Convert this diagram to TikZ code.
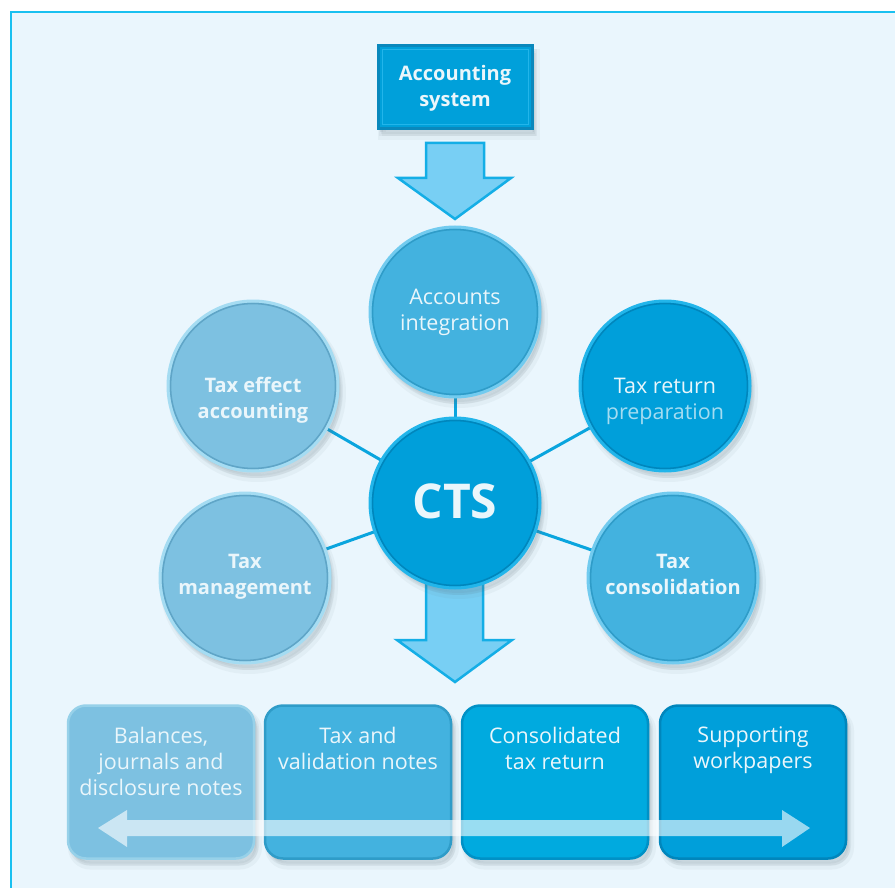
\documentclass[tikz,border=0pt]{standalone}
\usepackage{fontspec}
\setmainfont{Open Sans}
\definecolor{pagebg}{HTML}{EAF6FD}
\definecolor{frameline}{HTML}{19C0F0}
\definecolor{txt}{HTML}{EAF6FB}
\definecolor{lightfill}{HTML}{7DC1E1}
\definecolor{lightring}{HTML}{A5DCF2}
\definecolor{lightdark}{HTML}{5FA5C7}
\definecolor{midfill}{HTML}{43B2DF}
\definecolor{midring}{HTML}{72CBEF}
\definecolor{middark}{HTML}{2F9CC8}
\definecolor{darkfill}{HTML}{009FDA}
\definecolor{darkring}{HTML}{22B5EA}
\definecolor{darkdark}{HTML}{0086BC}
\definecolor{box3fill}{HTML}{00AADF}
\definecolor{connector}{HTML}{0AA5DE}
\definecolor{arrowfill}{HTML}{78CFF4}
\definecolor{arrowline}{HTML}{14AEE6}
\definecolor{accfill}{HTML}{00A0DA}
\definecolor{accline}{HTML}{0A88BC}
\definecolor{shadowcol}{HTML}{5A6E7A}
\tikzset{
  softshadow/.style={
    preaction={fill=shadowcol, fill opacity=0.06, transform canvas={xshift=4pt,yshift=-7pt}, draw=shadowcol, draw opacity=0.06, line width=8pt},
    preaction={fill=shadowcol, fill opacity=0.08, transform canvas={xshift=3pt,yshift=-5pt}, draw=shadowcol, draw opacity=0.08, line width=4pt},
    preaction={fill=shadowcol, fill opacity=0.10, transform canvas={xshift=2pt,yshift=-3pt}}},
  circ/.style n args={3}{circle, minimum size=170pt, inner sep=0pt, line width=3pt,
    fill=#1, draw=#2, softshadow,
    path picture={\draw[#3, line width=1.6pt] (path picture bounding box.center) circle (82.5pt);}},
  lbl/.style={text=txt, align=center, font=\fontsize{21.5}{26}\selectfont, inner sep=0pt},
  blbl/.style={text=txt, align=center, font=\fontsize{20}{26}\selectfont\bfseries, inner sep=0pt},
  bbox/.style n args={2}{rectangle, rounded corners=18pt, minimum width=186pt, minimum height=153pt,
    inner sep=0pt, line width=2.5pt, fill=#1, draw=#2, softshadow},
  downarrow/.style={fill=arrowfill, draw=arrowline, line width=2.5pt, line join=miter},
  conn/.style={draw=connector, line width=3pt}
}
\begin{document}
\begin{tikzpicture}[x=1pt,y=-1pt]
\useasboundingbox (0,0) rectangle (895,888);
\fill[pagebg] (10,12) rectangle (895,888);
\draw[frameline, line width=2pt] (11,888) -- (11,12) -- (895,12);

% centre coordinates for the connectors
\coordinate (aic) at (455,312);
\coordinate (teac) at (253,386);
\coordinate (trpc) at (665,386);
\coordinate (tmc) at (245,578);
\coordinate (tcc) at (673,578);
\coordinate (ctsc) at (455,503);

% connectors (under the circles)
\draw[conn] (ctsc) -- (aic);
\draw[conn] (ctsc) -- (teac);
\draw[conn] (ctsc) -- (trpc);
\draw[conn] (ctsc) -- (tmc);
\draw[conn] (ctsc) -- (tcc);

% accounting system
\node[rectangle, minimum width=154pt, minimum height=83pt, fill=accfill, draw=accline, line width=3pt, softshadow,
  path picture={\draw[darkring, line width=1pt] ([xshift=4pt,yshift=-4pt]path picture bounding box.north west) rectangle ([xshift=-4pt,yshift=4pt]path picture bounding box.south east);}]
  (acc) at (455,87.5) {};
\node[blbl] (acct) at (455,88.5) {Accounting\\system};

% top arrow
\draw[downarrow] (426,143) -- (484,143) -- (484,178) -- (511,178) -- (455,219) -- (398,178) -- (426,178) -- cycle;

% bottom arrow (under CTS)
\draw[downarrow] (426,570) -- (483,570) -- (483,640) -- (512,640) -- (455,682) -- (397,640) -- (426,640) -- cycle;

% circles
\node[circ={midfill}{midring}{middark}] (ai) at (aic) {};
\node[lbl] (ait) at (455,312) {Accounts\\integration};

\node[circ={lightfill}{lightring}{lightdark}] (tea) at (teac) {};
\node[blbl] (teat) at (253,400) {Tax effect\\accounting};

\node[circ={darkfill}{darkring}{darkdark}] (trp) at (trpc) {};
\node[lbl] (trpt) at (665,401) {Tax return\\\textcolor{txt!70!darkfill}{preparation}};

\node[circ={lightfill}{lightring}{lightdark}] (tm) at (tmc) {};
\node[blbl] (tmt) at (245,577) {Tax\\management};

\node[circ={midfill}{midring}{middark}] (tc) at (tcc) {};
\node[blbl] (tct) at (673,574) {Tax\\consolidation};

\node[circ={darkfill}{darkring}{darkdark}] (cts) at (ctsc) {};
\node[text=txt, font=\fontsize{48}{50}\selectfont\bfseries, inner sep=0pt] (ctst) at (455,501) {CTS};

% bottom boxes
\node[bbox={lightfill}{lightring!80!lightdark}] (b1) at (161,782) {};
\node[bbox={midfill}{middark}] (b2) at (358,782) {};
\node[bbox={box3fill}{darkdark!70!box3fill}] (b3) at (555,782) {};
\node[bbox={darkfill}{darkdark}] (b4) at (753,782) {};
\node[lbl, anchor=north] (b1t) at (161,727) {Balances,\\journals and\\disclosure notes};
\node[lbl, anchor=north] (b2t) at (358,727) {Tax and\\validation notes};
\node[lbl, anchor=north] (b3t) at (555,727) {Consolidated\\tax return};
\node[lbl, anchor=north] (b4t) at (753,727) {Supporting\\workpapers};

% double arrow
\fill[white, opacity=0.6] (98,828) -- (127,810) -- (127,820) -- (782,820) -- (782,810) -- (810,828)
  -- (782,847) -- (782,836) -- (127,836) -- (127,847) -- cycle;
\end{tikzpicture}
\end{document}
